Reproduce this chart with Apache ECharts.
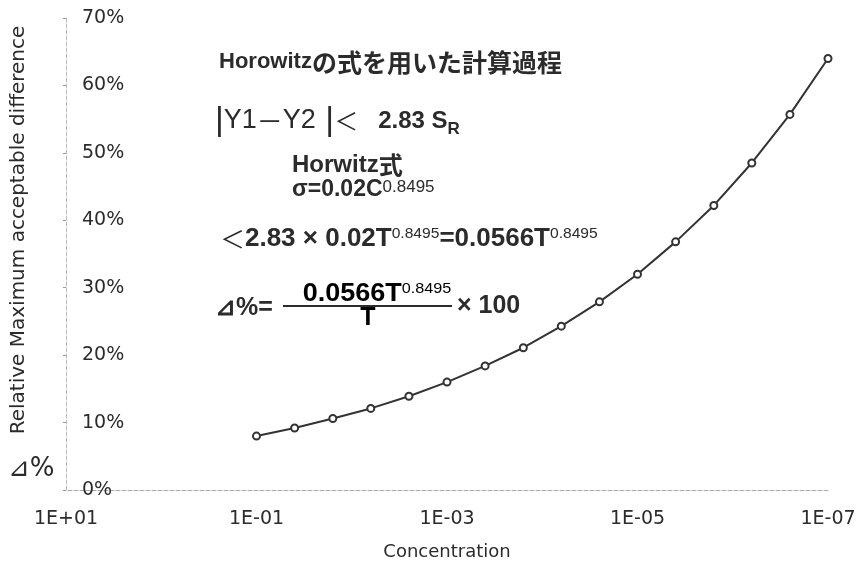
<!DOCTYPE html>
<html>
<head>
<meta charset="utf-8">
<script src="https://cdn.jsdelivr.net/npm/echarts@6/dist/echarts.min.js"></script>
<style>
html,body{margin:0;padding:0;background:#fff;}
#main{width:865px;height:568px;}
</style>
</head>
<body>
<div id="main"></div>
<script>
// Concentration T (log scale, decreasing to the right)
const concentrations = [1e-1, 3.98e-2, 1.58e-2, 6.31e-3, 2.51e-3, 1e-3, 3.98e-4, 1.58e-4,
                        6.31e-5, 2.51e-5, 1e-5, 3.98e-6, 1.58e-6, 6.31e-7, 2.51e-7, 1e-7];
// Relative maximum acceptable difference (%)
const deltaPercent = [8.0, 9.2, 10.6, 12.1, 13.9, 16.0, 18.4, 21.1,
                      24.3, 27.9, 32.0, 36.8, 42.2, 48.5, 55.7, 64.0];
const yTicks = [0, 10, 20, 30, 40, 50, 60, 70];
const xAxisName = 'Concentration';
const yAxisName = 'Relative Maximum acceptable difference';

const chart = echarts.init(document.getElementById('main'), null, {renderer: 'canvas'});
const axisFont = 'DejaVu Sans';
const ink = '#2b2b2b';
const B = 'Liberation Sans';
const J = 'Noto Sans CJK JP';

const rich = {
  r:  {fontFamily: B, fontSize: 27, fontWeight: 'normal', color: ink},
  b:  {fontFamily: B, fontSize: 24, fontWeight: 'bold', color: ink},
  b22:{fontFamily: B, fontSize: 22, fontWeight: 'bold', color: ink},
  b23:{fontFamily: B, fontSize: 23, fontWeight: 'bold', color: ink},
  b24:{fontFamily: B, fontSize: 24, fontWeight: 'bold', color: ink},
  b25:{fontFamily: B, fontSize: 25, fontWeight: 'bold', color: ink},
  j:  {fontFamily: J, fontSize: 25, fontWeight: 'bold', color: ink},
  j24:{fontFamily: J, fontSize: 24, fontWeight: 'bold', color: ink},
  jr: {fontFamily: J, fontSize: 24, fontWeight: 'normal', color: ink},
  jd: {fontFamily: J, fontSize: 26, fontWeight: 'normal', color: ink},
  bar:{fontFamily: B, fontSize: 34, fontWeight: 'normal', color: ink},
  sup:{fontFamily: B, fontSize: 15, fontWeight: 'normal', color: ink, verticalAlign: 'top'},
  sup2:{fontFamily: B, fontSize: 17, fontWeight: 'normal', color: ink, verticalAlign: 'top'},
  sub:{fontFamily: B, fontSize: 17, fontWeight: 'bold', color: ink, verticalAlign: 'bottom'}
};

function txt(x, y, text, extra) {
  return Object.assign({
    type: 'text', x: x, y: y, silent: true,
    style: {text: text, rich: rich, verticalAlign: 'middle', align: 'left', fill: ink}
  }, extra || {});
}

const option = {
  animation: false,
  backgroundColor: '#fff',
  grid: {left: 66, right: 37, top: 18, bottom: 78},
  xAxis: {
    type: 'log',
    logBase: 10,
    min: 1e-7,
    max: 10,
    interval: 2,
    inverse: true,
    name: xAxisName,
    nameLocation: 'middle',
    nameGap: 53,
    nameTextStyle: {fontFamily: axisFont, fontSize: 18, color: ink},
    axisLine: {onZero: false, lineStyle: {color: '#aaa', type: 'dashed', width: 1}},
    axisTick: {show: false},
    minorTick: {show: false},
    splitLine: {show: false},
    axisLabel: {
      fontFamily: axisFont, fontSize: 19, color: ink, margin: 20,
      formatter: function (v) {
        const e = Math.round(Math.log10(v));
        return '1E' + (e >= 0 ? '+' : '-') + String(Math.abs(e)).padStart(2, '0');
      }
    }
  },
  yAxis: {
    type: 'value',
    min: yTicks[0],
    max: yTicks[yTicks.length - 1],
    interval: 10,
    axisLine: {show: true, onZero: false, lineStyle: {color: '#bbb', type: 'dashed', width: 1}},
    axisTick: {show: true, inside: false, length: 3, lineStyle: {color: '#999'}},
    splitLine: {show: false},
    axisLabel: {
      inside: true, margin: 16, fontFamily: axisFont, fontSize: 19, color: ink,
      formatter: '{value}%'
    }
  },
  series: [{
    type: 'line',
    data: concentrations.map((c, i) => [c, deltaPercent[i]]),
    symbol: 'emptyCircle',
    symbolSize: 7,
    lineStyle: {color: '#333', width: 2},
    itemStyle: {color: '#333', borderWidth: 1.5},
    z: 5
  }],
  graphic: [
    // y axis name
    {type: 'text', x: 19, y: 230, rotation: Math.PI / 2, silent: true,
     style: {text: yAxisName, fontFamily: axisFont, fontSize: 20, fill: ink, align: 'center', verticalAlign: 'middle'}},
    {type: 'text', x: 8, y: 469, silent: true,
     style: {text: '⊿%', fontFamily: axisFont, fontSize: 26, fill: ink, align: 'left', verticalAlign: 'middle'}},
    // title
    txt(219, 62, '{b22|Horowitz}{j|の式を用いた計算過程}'),
    // |Y1-Y2| < 2.83 S_R
    txt(215, 121, '{bar||}{r|Y1}{jd|－}{r|Y2}{bar| |}{jr|＜}{b|   2.83 S}{sub|R}'),
    // Horwitz式
    txt(292, 165, '{b24|Horwitz}{j24|式}'),
    // sigma
    txt(292, 190, '{b23|σ=0.02C}{sup2|0.8495}'),
    // < 2.83 x 0.02 T^0.8495 = 0.0566 T^0.8495
    txt(220, 239, '{jr|＜}{b25|2.83}{b25| × 0.02T}{sup|0.8495}{b25|=0.0566T}{sup|0.8495}', {scaleX: 1.04}),
    // delta% =
    txt(215, 308, '{b25|⊿%=}'),
    {type: 'text', x: 377, y: 294, silent: true, scaleX: 1.08,
     style: {text: '{b25|0.0566T}{sup|0.8495}', rich: rich, align: 'center', verticalAlign: 'middle'}},
    {type: 'line', silent: true, shape: {x1: 283, y1: 306, x2: 452, y2: 306}, style: {stroke: ink, lineWidth: 2}},
    {type: 'text', x: 368, y: 318, silent: true,
     style: {text: '{b25|T}', rich: rich, align: 'center', verticalAlign: 'middle'}},
    txt(457, 306, '{b25|× 100}')
  ]
};
chart.setOption(option);
</script>
</body>
</html>
